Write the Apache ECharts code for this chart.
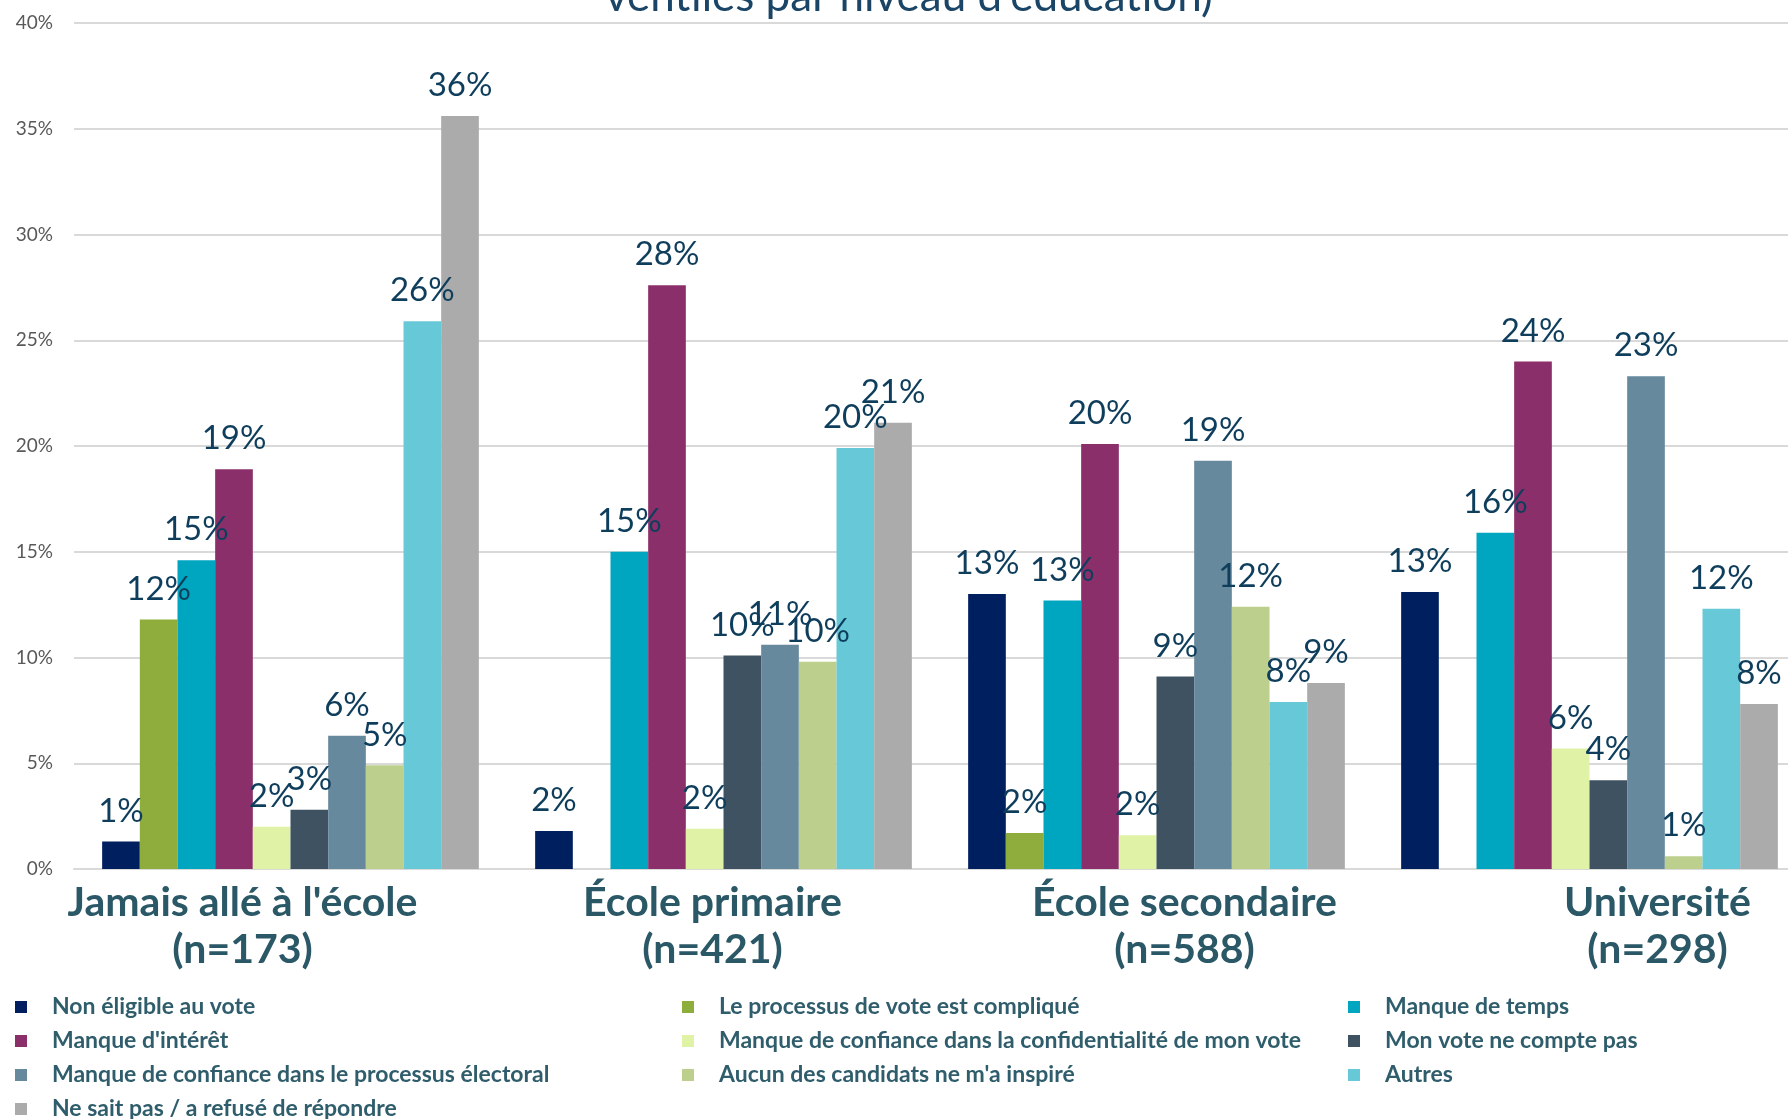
<!DOCTYPE html>
<html>
<head>
<meta charset="utf-8">
<title>Raisons de ne pas voter par niveau d'éducation</title>
<script src="https://cdn.jsdelivr.net/npm/echarts@6/dist/echarts.min.js"></script>
<style>
	html, body { margin: 0; padding: 0; background: #fff; overflow: hidden; }
	/* the source chart is cut off on its right edge, so the canvas runs a bit past the window */
	#chart { width: 1810px; height: 1119px; }
</style>
</head>
<body>
<div id="chart"></div>
<script>
// categories (education level) and sample sizes
var categories = ["Jamais allé à l'école", "École primaire", "École secondaire", "Université"];
var sampleSizes = [173, 421, 588, 298];

// reasons for not voting (series), legend order
var reasons = [
	"Non éligible au vote",
	"Le processus de vote est compliqué",
	"Manque de temps",
	"Manque d'intérêt",
	"Manque de confiance dans la confidentialité de mon vote",
	"Mon vote ne compte pas",
	"Manque de confiance dans le processus électoral",
	"Aucun des candidats ne m'a inspiré",
	"Autres",
	"Ne sait pas / a refusé de répondre"
];
var colors = ["#001f5f", "#8fad3c", "#00a6c0", "#8b2f6b", "#dff2a5", "#3f5261", "#67899d", "#bccf8c", "#67c9d8", "#ababab"];

// values in %, one array per reason, ordered like categories
var nonEligible     = [1.3, 1.8, 13.0, 13.1];
var processusCompl  = [11.8, 0, 1.7, 0];
var manqueTemps     = [14.6, 15.0, 12.7, 15.9];
var manqueInteret   = [18.9, 27.6, 20.1, 24.0];
var confConfid      = [2.0, 1.9, 1.6, 5.7];
var voteCompte      = [2.8, 10.1, 9.1, 4.2];
var confProcessus   = [6.3, 10.6, 19.3, 23.3];
var aucunCandidat   = [4.9, 9.8, 12.4, 0.6];
var autres          = [25.9, 19.9, 7.9, 12.3];
var neSaitPas       = [35.6, 21.1, 8.8, 7.8];
var values = [nonEligible, processusCompl, manqueTemps, manqueInteret, confConfid,
	voteCompte, confProcessus, aucunCandidat, autres, neSaitPas];

var yTicks = { min: 0, max: 40, interval: 5 };

var FONT = "Lato, 'Noto Sans', sans-serif";
var myChart = echarts.init(document.getElementById('chart'));

var series = [];
for (var i = 0; i < reasons.length; i++) {
	series.push({
		name: reasons[i],
		type: 'bar',
		data: values[i],
		barGap: '0%',
		barCategoryGap: '13%',
		itemStyle: { color: colors[i] },
		label: {
			show: true,
			position: 'top',
			distance: 14,
			color: '#0f3e5c',
			fontFamily: FONT,
			fontSize: 33,
			formatter: function (p) {
				return p.value > 0 ? Math.round(p.value) + '%' : '';
			}
		}
	});
}

function legendCol(idx, left) {
	return {
		orient: 'vertical',
		left: left,
		top: 995,
		padding: 0,
		height: 200,
		itemWidth: 12,
		itemHeight: 12,
		itemGap: 10,
		icon: 'rect',
		data: idx.map(function (k) { return reasons[k]; }),
		textStyle: {
			color: '#2f5d6c',
			fontFamily: FONT,
			fontWeight: 'bold',
			fontSize: 23,
			lineHeight: 24,
			padding: [0, 0, 0, 20]
		}
	};
}

// horizontal shift of each category label (rich padding), the source has them off-centre
var labelPads = [[0, 96, 0, 0], [0, 22, 0, 0], [0, 0, 0, 56], [0, 0, 0, 136]];
var rich = {};
for (var c = 0; c < categories.length; c++) {
	rich['c' + c] = {
		color: '#2b5866',
		fontFamily: FONT,
		fontWeight: 'bold',
		fontSize: 41,
		lineHeight: 47,
		padding: labelPads[c]
	};
}

var option = {
	backgroundColor: '#fff',
	animation: false,
	title: {
		text: "ventilés par niveau d'éducation)",
		left: 600,
		top: -30,
		textStyle: { color: '#1b4566', fontFamily: FONT, fontSize: 44, fontWeight: 'normal' }
	},
	grid: { left: 74, top: 23, bottom: 250, right: 4, containLabel: false },
	legend: [
		legendCol([0, 3, 6, 9], 15),
		legendCol([1, 4, 7], 682),
		legendCol([2, 5, 8], 1348)
	],
	xAxis: {
		type: 'category',
		data: categories,
		axisLine: { show: true, lineStyle: { color: '#d9d9d9', width: 2 } },
		axisTick: { show: false },
		axisLabel: {
			interval: 0,
			margin: 10,
			formatter: function (v, idx) {
				return '{c' + idx + '|' + v + '}\n{c' + idx + '|(n=' + sampleSizes[idx] + ')}';
			},
			rich: rich
		}
	},
	yAxis: {
		type: 'value',
		min: yTicks.min,
		max: yTicks.max,
		interval: yTicks.interval,
		axisLine: { show: false },
		axisTick: { show: false },
		splitLine: { lineStyle: { color: '#d9d9d9', width: 2 } },
		axisLabel: {
			formatter: '{value}%',
			margin: 21,
			color: '#595959',
			fontFamily: FONT,
			fontSize: 19
		}
	},
	series: series
};

myChart.setOption(option);
</script>
</body>
</html>
